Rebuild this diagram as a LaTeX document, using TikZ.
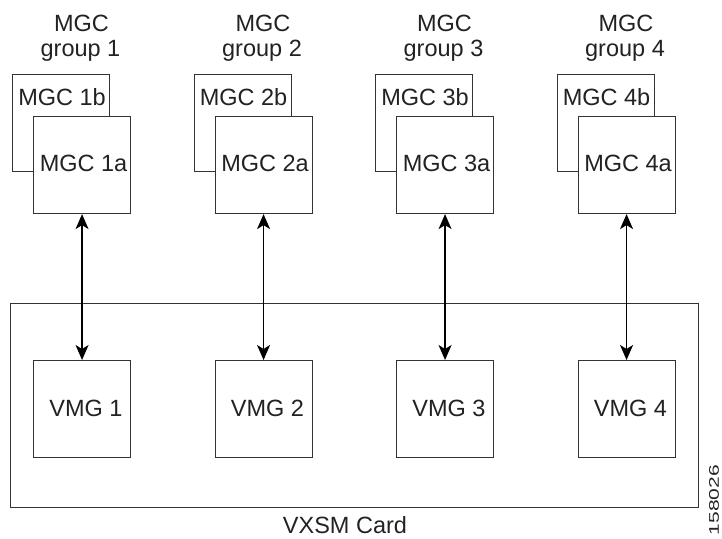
\documentclass[tikz,border=0pt]{standalone}
\usepackage{fontspec}
\setmainfont{Liberation Sans}
\usetikzlibrary{arrows.meta}
\definecolor{ink}{HTML}{222222}
\definecolor{edge}{HTML}{333333}
\tikzset{
  box/.style={draw=edge, line width=1.1pt, fill=white, minimum width=97pt, minimum height=97pt, inner sep=0pt, anchor=north west},
  lbl/.style={text=ink, font=\fontsize{23.5}{26}\selectfont, inner sep=0pt},
  link/.style={draw=black, line width=1.3pt, {Stealth[length=15pt,width=13pt,inset=4pt]}-{Stealth[length=15pt,width=13pt,inset=4pt]}}
}
\begin{document}
\begin{tikzpicture}[x=1pt,y=-1pt]
\useasboundingbox (0,0) rectangle (722,538);
% outer card
\node[draw=edge, line width=1.1pt, minimum width=687.5pt, minimum height=203.5pt, inner sep=0pt, anchor=north west] (card) at (10,303.3) {};
\node[lbl] (cardlbl) at (345,525.5) {VXSM Card};
\node[text=ink, inner sep=0pt, rotate=90] (num) at (714,500) {\fontsize{14}{14}\selectfont\scalebox{1.5}[1]{158026}};
\foreach \i in {1,2,3,4}{
  \pgfmathsetmacro{\dx}{(\i-1)*181.5}
  \begin{scope}[xshift=\dx]
    \node[lbl] (t1\i) at (81.5,23) {MGC};
    \node[lbl] (t2\i) at (80.5,50.5) {group \i};
    \node[box] (b\i) at (12,74) {};
    \node[lbl] (bl\i) at (62,97) {MGC \i b};
    \node[box] (a\i) at (33,116) {};
    \node[lbl] (al\i) at (83.5,163.5) {MGC \i a};
    \node[box] (v\i) at (33,360) {};
    \node[lbl] (vl\i) at (86,408) {VMG \i};
  \end{scope}
  \draw[link] (a\i.south) -- (v\i.north);
}
\end{tikzpicture}
\end{document}
